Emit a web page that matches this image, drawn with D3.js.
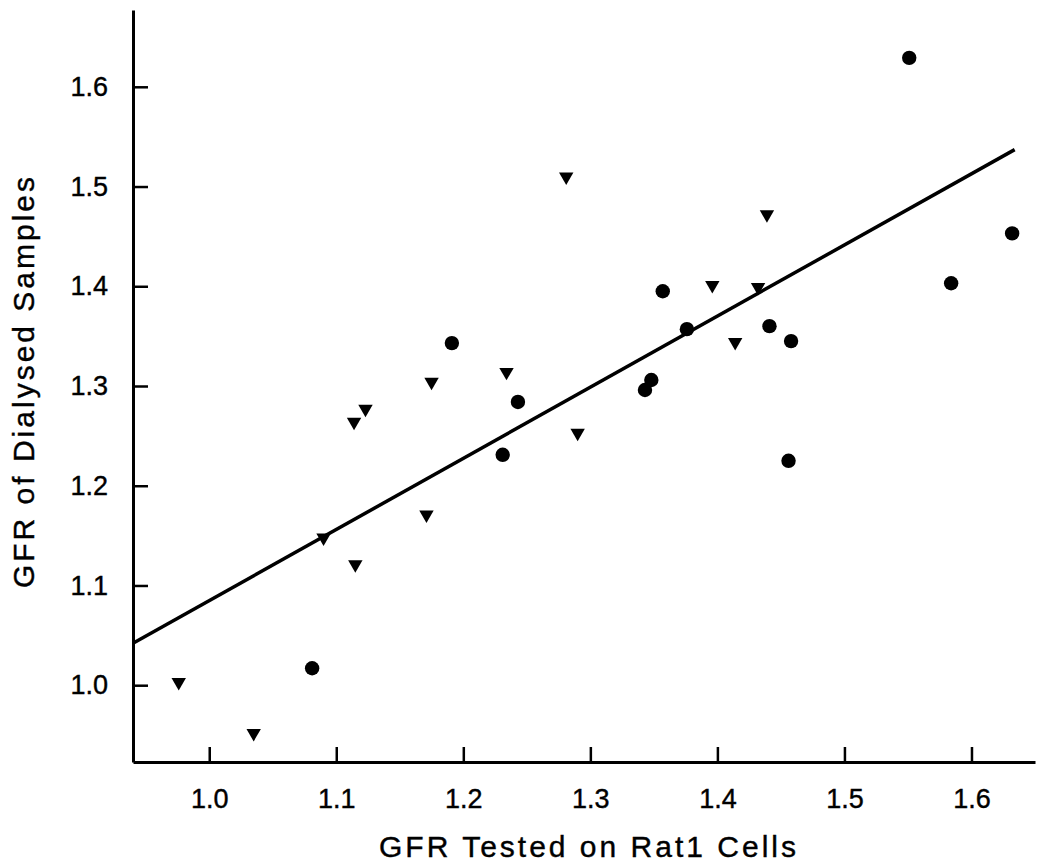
<!DOCTYPE html>
<html>
<head>
<meta charset="utf-8">
<script src="https://cdn.jsdelivr.net/npm/d3@7"></script>
<style>
  html, body { margin: 0; padding: 0; background: #fff; }
  svg { display: block; }
  .axis path, .axis line { stroke: #000; }
  .axis text { font-family: "Liberation Sans", Arial, sans-serif; font-size: 27px; fill: #000; stroke: #000; stroke-width: 0.4; }
  .title { font-family: "Liberation Sans", Arial, sans-serif; font-size: 30px; fill: #000; stroke: #000; stroke-width: 0.4; }
</style>
</head>
<body>
<svg id="chart" width="1037" height="865"></svg>
<script>
// circles (first group)
const circleX = [1.081, 1.191, 1.243, 1.231, 1.348, 1.343, 1.357, 1.376, 1.441, 1.458, 1.456, 1.551, 1.584, 1.632];
const circleY = [1.017, 1.343, 1.284, 1.231, 1.306, 1.296, 1.395, 1.357, 1.360, 1.345, 1.225, 1.629, 1.403, 1.453];
// down triangles (second group)
const triX = [0.976, 1.035, 1.090, 1.115, 1.114, 1.123, 1.171, 1.175, 1.234, 1.281, 1.290, 1.396, 1.414, 1.432, 1.439];
const triY = [1.003, 0.952, 1.148, 1.121, 1.264, 1.277, 1.171, 1.304, 1.314, 1.510, 1.253, 1.401, 1.344, 1.399, 1.472];
// regression line end points
const fitX = [0.94, 1.634];
const fitY = [1.042, 1.537];

const xTicks = [1.0, 1.1, 1.2, 1.3, 1.4, 1.5, 1.6];
const yTicks = [1.0, 1.1, 1.2, 1.3, 1.4, 1.5, 1.6];
const xTitle = 'GFR Tested on Rat1 Cells';
const yTitle = 'GFR of Dialysed Samples';

const svg = d3.select('#chart');

const x = d3.scaleLinear().domain([0.94, 1.65]).range([133, 1035]);
const y = d3.scaleLinear().domain([0.923, 1.677]).range([762, 10]);

// axes, ticks pointing inward
const gx = svg.append('g').attr('class', 'axis')
  .attr('transform', `translate(0,${y(0.923)})`)
  .call(d3.axisBottom(x).tickValues(xTicks).tickFormat(d3.format('.1f'))
    .tickSizeInner(-15).tickSizeOuter(0).tickPadding(27));
const gy = svg.append('g').attr('class', 'axis')
  .attr('transform', `translate(${x(0.94)},0)`)
  .call(d3.axisLeft(y).tickValues(yTicks).tickFormat(d3.format('.1f'))
    .tickSizeInner(-15).tickSizeOuter(0).tickPadding(25));

for (const g of [gx, gy]) {
  g.select('.domain').attr('stroke-width', 3);
  g.selectAll('.tick line').attr('stroke-width', 2.5);
}

// regression line
svg.append('path')
  .datum(d3.zip(fitX, fitY))
  .attr('fill', 'none')
  .attr('stroke', '#000')
  .attr('stroke-width', 3.5)
  .attr('d', d3.line().x((d) => x(d[0])).y((d) => y(d[1])));

// points
svg.append('g').selectAll('circle')
  .data(d3.zip(circleX, circleY)).enter().append('circle')
  .attr('cx', (d) => x(d[0])).attr('cy', (d) => y(d[1]))
  .attr('r', 7.2).attr('fill', '#000');

const tri = d3.symbol(d3.symbolTriangle, 90);
svg.append('g').selectAll('path')
  .data(d3.zip(triX, triY)).enter().append('path')
  .attr('d', tri)
  .attr('transform', (d) => `translate(${x(d[0])},${y(d[1])}) rotate(180)`)
  .attr('fill', '#000');

// titles
svg.append('text').attr('class', 'title')
  .attr('x', 589).attr('y', 857)
  .attr('text-anchor', 'middle').attr('letter-spacing', 3)
  .text(xTitle);
svg.append('text').attr('class', 'title')
  .attr('transform', `translate(34,381) rotate(-90)`)
  .attr('text-anchor', 'middle').attr('letter-spacing', 3)
  .text(yTitle);
</script>
</body>
</html>
